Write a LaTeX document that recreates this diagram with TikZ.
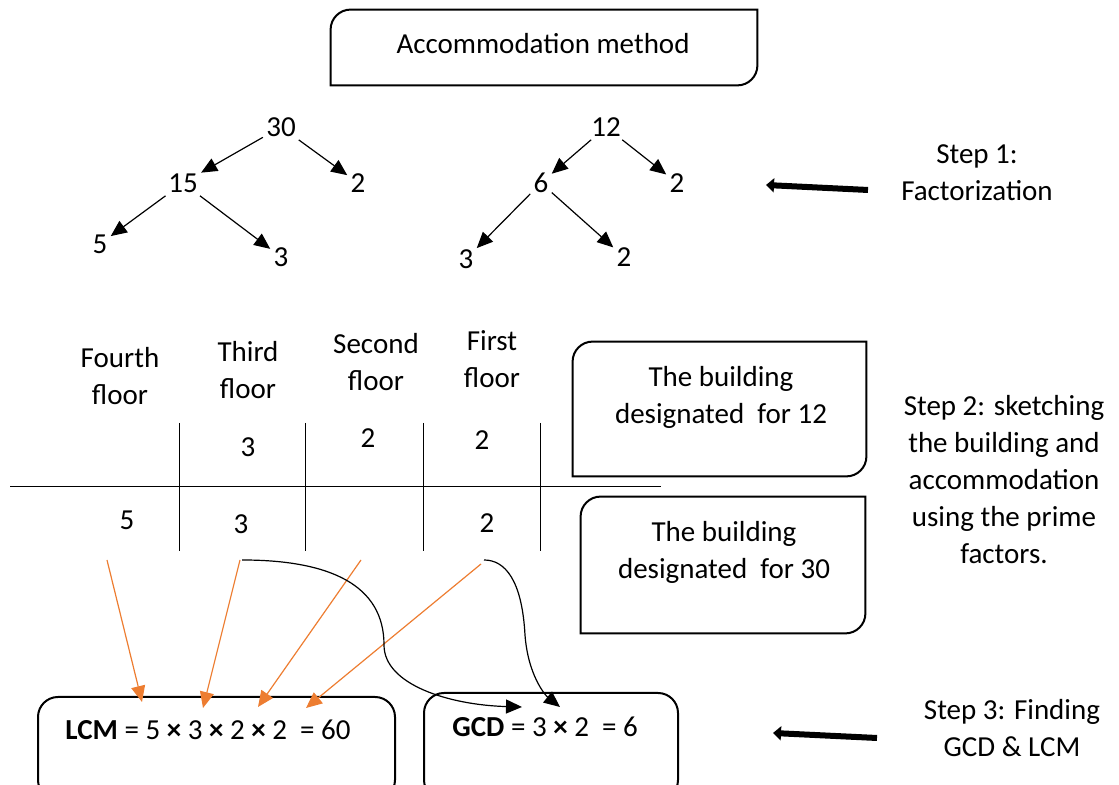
\documentclass[tikz,border=0pt]{standalone}
\usepackage{fontspec}
\setmainfont{Carlito}
\usetikzlibrary{arrows.meta}
\definecolor{pickorange}{RGB}{237,125,49}
\tikzset{
  txt/.style={inner sep=1.5pt, align=center},
  fac/.style={line width=0.6pt, -{Triangle[length=8pt,width=7pt]}},
  frame/.style={line width=1pt},
  pick/.style={pickorange, line width=0.6pt, -{Triangle[length=8pt,width=7pt]}},
  link/.style={line width=0.6pt, -{Triangle[length=8pt,width=7pt]}},
  bigarrow/.style={line width=3pt, -{Triangle[length=4pt,width=7pt]}},
  wall/.style={line width=0.5pt},
  holder/.style={inner sep=0pt}
}
% frame with round top-left and bottom-right corners
\newcommand{\diagframe}[1]{%
  \draw[frame] (#1.south west) -- ([yshift=-10pt]#1.north west)
    arc[start angle=180,end angle=90,radius=10pt] -- (#1.north east)
    -- ([yshift=10pt]#1.south east)
    arc[start angle=0,end angle=-90,radius=10pt] -- cycle;}

\begin{document}
\begin{tikzpicture}[x=0.5pt,y=0.5pt,font=\fontsize{14.5}{18.5}\selectfont]
\clip (0,0) rectangle (1119,785);

% title
\node[holder,minimum width=213pt,minimum height=37.5pt] (top) at (544,737.5) {};
\diagframe{top}
\node[txt] (toptxt) at (543,741) {Accommodation method};

% factor trees
\node[txt] (n30) at (281,658) {30};
\node[txt] (n15) at (183,602) {15};
\node[txt] (n2a) at (358,602) {2};
\node[txt] (n5) at (100,541) {5};
\node[txt] (n3a) at (281,528) {3};
\draw[fac] (n30) -- (n15);
\draw[fac] (n30) -- (n2a);
\draw[fac] (n15) -- (n5);
\draw[fac] (n15) -- (n3a);

\node[txt] (n12) at (606,658) {12};
\node[txt] (n6) at (541,602) {6};
\node[txt] (n2b) at (677,602) {2};
\node[txt] (n3b) at (466,526) {3};
\node[txt] (n2c) at (624,528) {2};
\draw[fac] (n12) -- (n6);
\draw[fac] (n12) -- (n2b);
\draw[fac] (n6) -- (n3b);
\draw[fac] (n6) -- (n2c);

% steps
\node[txt] (step1) at (977,612) {Step 1:\\Factorization};
\coordinate (s1tail) at (868,595);
\coordinate (s1tip) at (766,600);
\draw[bigarrow] (s1tail) -- (s1tip);
\node[txt] (step2) at (1004,305) {Step 2: sketching\\the building and\\accommodation\\using the prime\\factors.};
\node[txt] (step3) at (1012,57) {Step 3: Finding\\GCD \& LCM};
\coordinate (s3tail) at (877,47);
\coordinate (s3tip) at (773,52);
\draw[bigarrow] (s3tail) -- (s3tip);

% building
\node[txt] (fl4) at (120,409) {Fourth\\floor};
\node[txt] (fl3) at (248,415) {Third\\floor};
\node[txt] (fl2) at (376,423) {Second\\floor};
\node[txt] (fl1) at (492,426) {First\\floor};
\foreach \x in {179,305,423,540}
  \draw[wall] (\x,362) -- (\x,234);
\draw[wall] (10,298) -- (661,298);
\node[txt] (u3) at (248,338) {3};
\node[txt] (u2a) at (368,347) {2};
\node[txt] (u2b) at (482,345) {2};
\node[txt] (l5) at (127,265) {5};
\node[txt] (l3) at (241,261) {3};
\node[txt] (l2) at (487,262) {2};

\node[holder,minimum width=146.5pt,minimum height=67pt] (b12) at (719.5,376) {};
\diagframe{b12}
\node[txt] (b12txt) at (721,388) {The building\\designated~ for 12};
\node[holder,minimum width=142pt,minimum height=68pt] (b30) at (723,220) {};
\diagframe{b30}
\node[txt] (b30txt) at (724,233) {The building\\designated~ for 30};

% results
\node[draw,frame,rounded corners=10pt,minimum width=178.5pt,minimum height=51.5pt] (lcm) at (216.5,36.5) {};
\node[txt,anchor=west] (lcmtxt) at (62,55) {\textbf{LCM} = 5 \textbf{×} 3 \textbf{×} 2 \textbf{×} 2~ = 60};
\node[draw,frame,rounded corners=10pt,minimum width=127pt,minimum height=53.5pt] (gcd) at (551,38.5) {};
\node[txt,anchor=west] (gcdtxt) at (449,58) {\textbf{GCD} = 3 \textbf{×} 2~ = 6};

% picking the factors
\coordinate (o1) at (107,225);
\coordinate (o2) at (240,225);
\coordinate (o3) at (361,225);
\coordinate (o4) at (481,221);
\coordinate (t1) at (142,83);
\coordinate (t2) at (203,77);
\coordinate (t3) at (258,78);
\coordinate (t4) at (306,77);
\draw[pick] (o1) -- (t1);
\draw[pick] (o2) -- (t2);
\draw[pick] (o3) -- (t3);
\draw[pick] (o4) -- (t4);

\coordinate (c1) at (242,225);
\coordinate (c2) at (484,225);
\coordinate (g1) at (522,78);
\coordinate (g2) at (560,78);
\draw[link] (c1) .. controls (330,225) and (384,200) .. (384,140)
  .. controls (384,100) and (450,80) .. (g1);
\draw[link] (c2) .. controls (505,225) and (522,205) .. (525,150)
  .. controls (528,110) and (545,90) .. (g2);
\end{tikzpicture}
\end{document}
